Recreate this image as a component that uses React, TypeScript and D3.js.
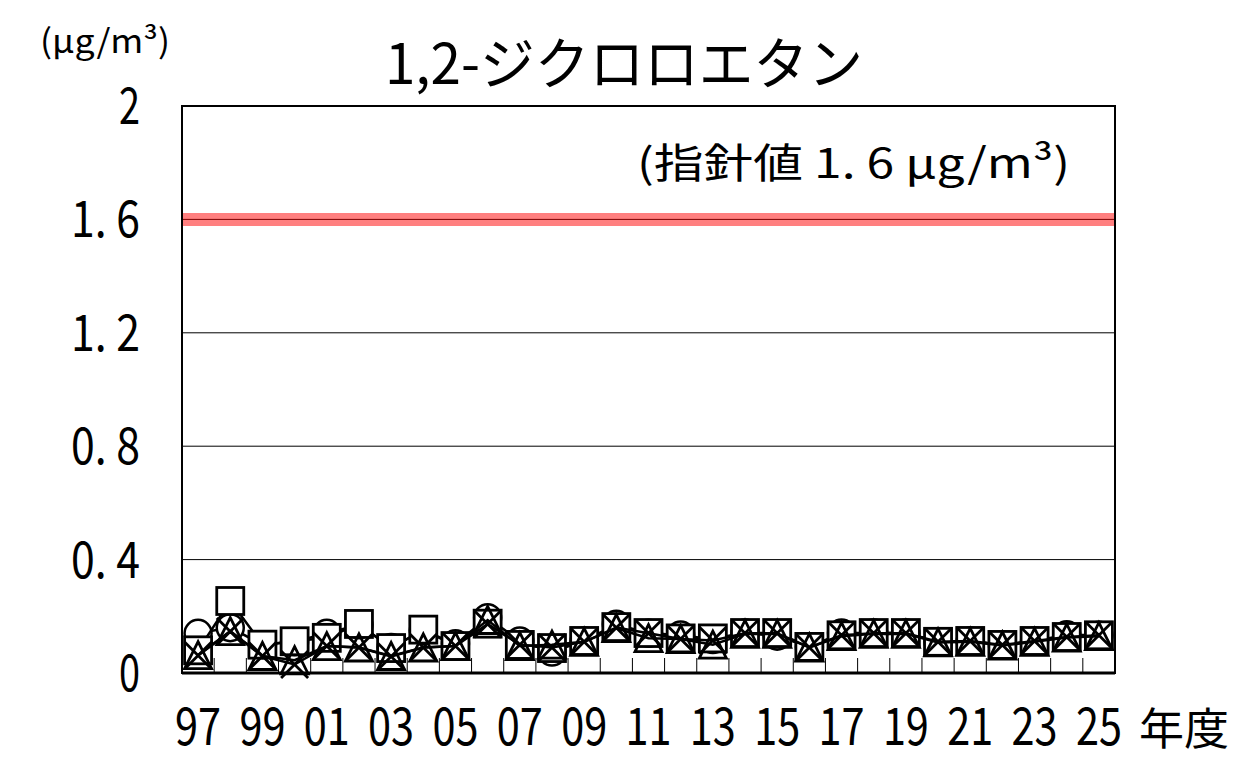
import * as d3 from "d3";

// fiscal years on the x axis
const years = [
  "1997", "1998", "1999", "2000", "2001", "2002", "2003", "2004", "2005", "2006",
  "2007", "2008", "2009", "2010", "2011", "2012", "2013", "2014", "2015", "2016",
  "2017", "2018", "2019", "2020", "2021", "2022", "2023", "2024", "2025",
];

// ○ series
const circleValues = [
  0.14, 0.16, 0.1, 0.11, 0.14, 0.17, 0.09, 0.15, 0.103, 0.195,
  0.113, 0.074, 0.113, 0.172, 0.14, 0.134, 0.118, 0.141, 0.13, 0.092,
  0.141, 0.141, 0.141, 0.11, 0.113, 0.099, 0.113, 0.135, 0.133,
];
// □ series
const squareValues = [
  0.08, 0.254, 0.1, 0.112, 0.124, 0.173, 0.088, 0.153, 0.095, 0.174,
  0.099, 0.088, 0.113, 0.162, 0.141, 0.122, 0.122, 0.141, 0.141, 0.092,
  0.133, 0.141, 0.141, 0.11, 0.113, 0.099, 0.113, 0.127, 0.133,
];
// △ series
const triangleValues = [
  0.063, 0.148, 0.06, 0.045, 0.095, 0.09, 0.06, 0.09, 0.095, 0.187,
  0.095, 0.1, 0.11, 0.158, 0.123, 0.12, 0.1, 0.138, 0.138, 0.09,
  0.13, 0.138, 0.138, 0.108, 0.11, 0.097, 0.11, 0.125, 0.13,
];
// × series
const crossValues = [
  0.062, 0.146, 0.06, 0.03, 0.095, 0.09, 0.058, 0.09, 0.095, 0.173,
  0.1, 0.09, 0.11, 0.16, 0.14, 0.12, 0.115, 0.14, 0.14, 0.09,
  0.133, 0.14, 0.14, 0.11, 0.113, 0.099, 0.113, 0.127, 0.133,
];

const yTicks = [0, 0.4, 0.8, 1.2, 1.6, 2];
const gridTicks = [0.4, 0.8, 1.2, 1.6];
const guideline = 1.6;

const title = "1,2-ジクロロエタン";
const unitLabel = "(μg/m³)";
const guideLabel = "(指針値 1. 6 μg/m³)";
const yearUnit = "年度";

const W = 1251;
const H = 781;
const plot = { left: 182, right: 1115, top: 106, bottom: 673 };
const font = "'Noto Sans CJK JP', 'Noto Sans', sans-serif";
const M = 27; // marker size

const x = d3.scaleBand<string>().domain(years).range([plot.left, plot.right]).padding(0);
const y = d3.scaleLinear().domain([0, 2]).range([plot.bottom, plot.top]);
const cx = (yr: string) => (x(yr) ?? 0) + x.bandwidth() / 2;

const lineGen = (vals: number[]) =>
  d3
    .line<number>()
    .x((_, i) => cx(years[i]))
    .y((d) => y(d))(vals) ?? "";

const triPath = `M0,${-M / 2}L${M / 2},${M / 2}L${-M / 2},${M / 2}Z`;
const crossPath = `M${-M / 2},${-M / 2}L${M / 2},${M / 2}M${M / 2},${-M / 2}L${-M / 2},${M / 2}`;

// the source font is monospaced, so the decimal point takes a full digit cell
const fmtTick = (v: number) => (v === 0 || v === 2 ? String(v) : v.toFixed(1).replace(".", ". "));

export default function App() {
  const series = [
    { vals: circleValues, kind: "circle" },
    { vals: squareValues, kind: "square" },
    { vals: triangleValues, kind: "triangle" },
    { vals: crossValues, kind: "cross" },
  ];

  return (
    <svg
      width={W}
      height={H}
      style={{ position: "absolute", left: 0, top: 0, background: "#fff" }}
      fontFamily={font}
    >
      <rect width={W} height={H} fill="#fff" />

      {/* gridlines */}
      {gridTicks.map((t) => (
        <line key={t} x1={plot.left} x2={plot.right} y1={y(t)} y2={y(t)} stroke="#000" strokeWidth={1} />
      ))}

      {/* guideline band */}
      <line
        x1={plot.left}
        x2={plot.right}
        y1={y(guideline)}
        y2={y(guideline)}
        stroke="rgb(255,0,0)"
        strokeOpacity={0.5}
        strokeWidth={13}
      />

      {/* x ticks inside at category boundaries */}
      {years.slice(1).map((yr) => (
        <line
          key={yr}
          x1={x(yr)}
          x2={x(yr)}
          y1={plot.bottom}
          y2={plot.bottom - 15}
          stroke="#000"
          strokeWidth={1}
        />
      ))}

      {/* series */}
      {series.map((s) => (
        <g key={s.kind}>
          <path d={lineGen(s.vals)} fill="none" stroke="#000" strokeWidth={2.5} />
          {s.vals.map((v, i) => {
            const px = cx(years[i]);
            const py = y(v);
            if (s.kind === "circle")
              return <circle key={i} cx={px} cy={py} r={M / 2} fill="#fff" stroke="#000" strokeWidth={2.5} />;
            if (s.kind === "square")
              return (
                <rect key={i} x={px - M / 2} y={py - M / 2} width={M} height={M} fill="#fff" stroke="#000" strokeWidth={2.8} />
              );
            if (s.kind === "triangle")
              return (
                <path key={i} d={triPath} transform={`translate(${px},${py})`} fill="none" stroke="#000" strokeWidth={2.8} strokeLinejoin="miter" />
              );
            return <path key={i} d={crossPath} transform={`translate(${px},${py})`} fill="none" stroke="#000" strokeWidth={2.8} />;
          })}
        </g>
      ))}

      {/* frame */}
      <rect
        x={plot.left}
        y={plot.top}
        width={plot.right - plot.left}
        height={plot.bottom - plot.top}
        fill="none"
        stroke="#000"
        strokeWidth={2}
      />
      <line x1={plot.left} x2={plot.right} y1={plot.bottom} y2={plot.bottom} stroke="#000" strokeWidth={3} />

      {/* y tick labels */}
      {yTicks.map((t) => {
        const label = fmtTick(t);
        return (
          <text
            key={t}
            x={140}
            y={y(t) + 18}
            textAnchor="end"
            fontSize={51}
            textLength={label.length === 1 ? 21 : 69}
            lengthAdjust="spacingAndGlyphs"
          >
            {label}
          </text>
        );
      })}

      {/* x tick labels, every second year */}
      {years.map((yr, i) =>
        i % 2 === 0 ? (
          <text
            key={yr}
            x={cx(yr) - 23}
            y={745}
            fontSize={52}
            textLength={46}
            lengthAdjust="spacingAndGlyphs"
          >
            {yr.slice(2)}
          </text>
        ) : null
      )}
      <text x={1139} y={745} fontSize={44} textLength={90} lengthAdjust="spacingAndGlyphs">
        {yearUnit}
      </text>

      {/* title */}
      <text x={385} y={84} fontSize={56} textLength={478} lengthAdjust="spacingAndGlyphs">
        {title}
      </text>

      {/* unit */}
      <text x={40} y={53} fontSize={33} textLength={130} lengthAdjust="spacingAndGlyphs">
        {unitLabel}
      </text>

      {/* guideline label */}
      <text x={637} y={178} fontSize={41} textLength={433} lengthAdjust="spacingAndGlyphs">
        {guideLabel}
      </text>
    </svg>
  );
}
